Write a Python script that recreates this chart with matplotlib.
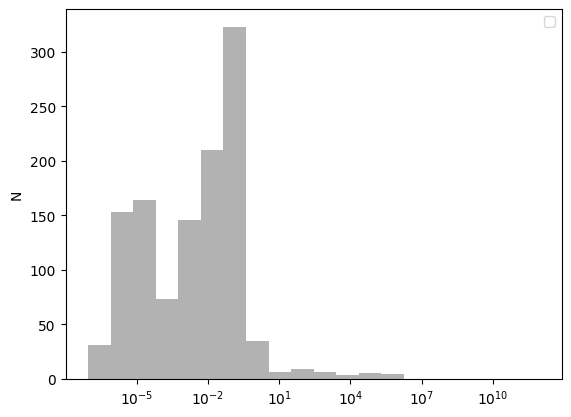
import numpy as np
import matplotlib
matplotlib.use("Agg")
import matplotlib.pyplot as plt

# log10 of the bin edges, 20 bins spaced evenly in log space
log_lo = -7.04
log_hi = 11.94
n_bins = 20

# counts per bin
counts = [31, 153, 164, 73, 146, 210, 323, 35, 6, 9, 6, 3, 5, 4,
          0, 0, 0, 0, 0, 0]

edges = np.logspace(log_lo, log_hi, n_bins + 1)
centers = np.sqrt(edges[:-1] * edges[1:])

fig, ax = plt.subplots(figsize=(6.4, 4.8))
ax.hist(centers, bins=edges, weights=counts, color='k', alpha=0.3)
ax.set_xscale('log')
ax.set_ylabel('N')
ax.legend()

fig.savefig('out.png', dpi=100, bbox_inches='tight')
